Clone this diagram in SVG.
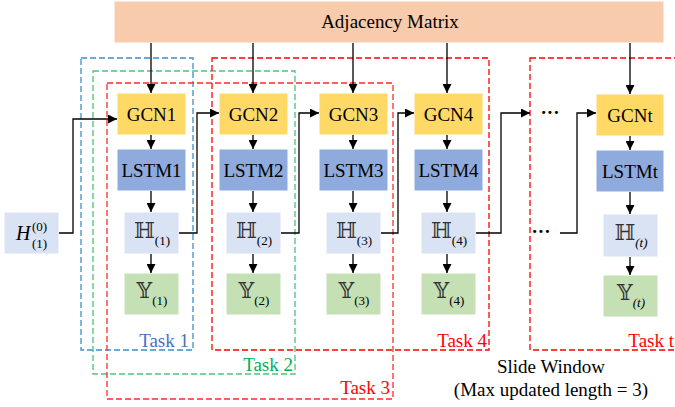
<svg xmlns="http://www.w3.org/2000/svg" width="675" height="407" viewBox="0 0 675 407">
<style>
.t{font-family:"Liberation Serif","Times New Roman",serif;fill:#000;}
.lbl{font-size:19px;text-anchor:middle;}
.m{text-anchor:middle;}
.ds{font-family:"DejaVu Serif","DejaVu Sans",serif;font-size:22px;fill:#333;}
.sub{font-family:"Liberation Serif",serif;font-size:13px;fill:#000;}
.adj{fill:#F8CBAD;}
.gcn{fill:#FFD966;}
.lstm{fill:#8FAADC;}
.h{fill:#DAE3F3;}
.y{fill:#C5E0B4;}
.box{stroke:#ffffff;stroke-width:1;}
.dash{fill:none;stroke-width:1.3;stroke-dasharray:6 3;}
.conn{fill:none;stroke:#000;stroke-width:1.3;}
.task{font-family:"Liberation Serif",serif;font-size:19px;text-anchor:end;}
</style>
<defs>
<marker id="ar" markerUnits="userSpaceOnUse" markerWidth="9" markerHeight="9" viewBox="0 0 10 10" refX="10" refY="5" orient="auto">
<path d="M0,0 L10,5 L0,10 z" fill="#000"/>
</marker>
</defs>
<rect width="675" height="407" fill="#fff"/>

<g id="adjacency">
<rect class="adj box" x="114" y="1" width="550" height="42"/>
<text class="t lbl" x="390" y="28">Adjacency Matrix</text>
</g>

<g id="task-boxes">
<rect class="dash" x="81" y="58" width="112" height="292" stroke="#3A8FD0"/>
<rect class="dash" x="93" y="71" width="202" height="303" stroke="#4CC37A"/>
<rect class="dash" x="107" y="83" width="286" height="316" stroke="#FF2A2A"/>
<rect class="dash" x="212" y="58" width="277" height="292" stroke="#FF0000"/>
<rect class="dash" x="530" y="58" width="160" height="292" stroke="#FF0000"/>
<text class="task" x="189" y="347" fill="#4472C4">Task 1</text>
<text class="task" x="293" y="371" fill="#00B050">Task 2</text>
<text class="task" x="390" y="394" fill="#FF0000">Task 3</text>
<text class="task" x="487" y="347" fill="#FF0000">Task 4</text>
<text class="task" x="674" y="347" fill="#FF0000">Task t</text>
</g>

<g id="h0">
<rect class="h box" x="4" y="212" width="55" height="42"/>
<text class="t" x="16" y="240" font-size="20" font-style="italic">H</text>
<text class="sub" x="32" y="231" font-size="12">(0)</text>
<text class="sub" x="32" y="248" font-size="12">(1)</text>
</g>

<g id="col1">
<rect class="gcn box" x="117" y="93" width="69" height="42"/>
<text class="t lbl" x="151.5" y="121">GCN1</text>
<rect class="lstm box" x="117" y="149" width="69" height="42"/>
<text class="t lbl" x="151.5" y="177">LSTM1</text>
<rect class="h box" x="124" y="212" width="55" height="42"/>
<text class="m" x="152" y="238"><tspan class="ds">ℍ</tspan><tspan class="sub" dy="7">(1)</tspan></text>
<rect class="y box" x="124" y="273" width="55" height="42"/>
<text class="m" x="152" y="298"><tspan class="ds">𝕐</tspan><tspan class="sub" dy="7">(1)</tspan></text>
</g>

<g id="col2">
<rect class="gcn box" x="219" y="93" width="69" height="42"/>
<text class="t lbl" x="253.5" y="121">GCN2</text>
<rect class="lstm box" x="219" y="149" width="69" height="42"/>
<text class="t lbl" x="253.5" y="177">LSTM2</text>
<rect class="h box" x="226" y="212" width="55" height="42"/>
<text class="m" x="254" y="238"><tspan class="ds">ℍ</tspan><tspan class="sub" dy="7">(2)</tspan></text>
<rect class="y box" x="226" y="273" width="55" height="42"/>
<text class="m" x="254" y="298"><tspan class="ds">𝕐</tspan><tspan class="sub" dy="7">(2)</tspan></text>
</g>

<g id="col3">
<rect class="gcn box" x="319" y="93" width="69" height="42"/>
<text class="t lbl" x="353.5" y="121">GCN3</text>
<rect class="lstm box" x="319" y="149" width="69" height="42"/>
<text class="t lbl" x="353.5" y="177">LSTM3</text>
<rect class="h box" x="326" y="212" width="55" height="42"/>
<text class="m" x="354" y="238"><tspan class="ds">ℍ</tspan><tspan class="sub" dy="7">(3)</tspan></text>
<rect class="y box" x="326" y="273" width="55" height="42"/>
<text class="m" x="354" y="298"><tspan class="ds">𝕐</tspan><tspan class="sub" dy="7">(3)</tspan></text>
</g>

<g id="col4">
<rect class="gcn box" x="414" y="93" width="69" height="42"/>
<text class="t lbl" x="448.5" y="121">GCN4</text>
<rect class="lstm box" x="414" y="149" width="69" height="42"/>
<text class="t lbl" x="448.5" y="177">LSTM4</text>
<rect class="h box" x="421" y="212" width="55" height="42"/>
<text class="m" x="449" y="238"><tspan class="ds">ℍ</tspan><tspan class="sub" dy="7">(4)</tspan></text>
<rect class="y box" x="421" y="273" width="55" height="42"/>
<text class="m" x="449" y="298"><tspan class="ds">𝕐</tspan><tspan class="sub" dy="7">(4)</tspan></text>
</g>

<g id="colt">
<rect class="gcn box" x="596" y="94" width="68" height="42"/>
<text class="t lbl" x="630" y="122">GCNt</text>
<rect class="lstm box" x="596" y="150" width="68" height="42"/>
<text class="t lbl" x="630" y="178">LSTMt</text>
<rect class="h box" x="603" y="214" width="55" height="43"/>
<text class="m" x="631" y="240"><tspan class="ds">ℍ</tspan><tspan class="sub" dy="7" font-style="italic">(t)</tspan></text>
<rect class="y box" x="603" y="275" width="55" height="42"/>
<text class="m" x="631" y="300"><tspan class="ds">𝕐</tspan><tspan class="sub" dy="7" font-style="italic">(t)</tspan></text>
</g>

<g id="ellipses">
<text class="t" x="550" y="119" font-size="19" font-weight="bold" text-anchor="middle">···</text>
<text class="t" x="541" y="238" font-size="19" font-weight="bold" text-anchor="middle">···</text>
</g>

<g id="connectors">
<line class="conn" x1="151" y1="43" x2="151" y2="93" marker-end="url(#ar)"/>
<line class="conn" x1="253" y1="43" x2="253" y2="93" marker-end="url(#ar)"/>
<line class="conn" x1="353" y1="43" x2="353" y2="93" marker-end="url(#ar)"/>
<line class="conn" x1="447" y1="43" x2="447" y2="93" marker-end="url(#ar)"/>
<line class="conn" x1="630" y1="43" x2="630" y2="94" marker-end="url(#ar)"/>
<line class="conn" x1="151" y1="135" x2="151" y2="149" marker-end="url(#ar)"/>
<line class="conn" x1="253" y1="135" x2="253" y2="149" marker-end="url(#ar)"/>
<line class="conn" x1="353" y1="135" x2="353" y2="149" marker-end="url(#ar)"/>
<line class="conn" x1="447" y1="135" x2="447" y2="149" marker-end="url(#ar)"/>
<line class="conn" x1="630" y1="136" x2="630" y2="150" marker-end="url(#ar)"/>
<line class="conn" x1="151" y1="191" x2="151" y2="212" marker-end="url(#ar)"/>
<line class="conn" x1="253" y1="191" x2="253" y2="212" marker-end="url(#ar)"/>
<line class="conn" x1="353" y1="191" x2="353" y2="212" marker-end="url(#ar)"/>
<line class="conn" x1="447" y1="191" x2="447" y2="212" marker-end="url(#ar)"/>
<line class="conn" x1="630" y1="192" x2="630" y2="214" marker-end="url(#ar)"/>
<line class="conn" x1="151" y1="254" x2="151" y2="273" marker-end="url(#ar)"/>
<line class="conn" x1="253" y1="254" x2="253" y2="273" marker-end="url(#ar)"/>
<line class="conn" x1="353" y1="254" x2="353" y2="273" marker-end="url(#ar)"/>
<line class="conn" x1="447" y1="254" x2="447" y2="273" marker-end="url(#ar)"/>
<line class="conn" x1="630" y1="257" x2="630" y2="275" marker-end="url(#ar)"/>
<polyline class="conn" points="59,233 73,233 73,119 117,119" marker-end="url(#ar)"/>
<polyline class="conn" points="179,233 197,233 197,113 219,113" marker-end="url(#ar)"/>
<polyline class="conn" points="281,233 299,233 299,113 319,113" marker-end="url(#ar)"/>
<polyline class="conn" points="381,233 398,233 398,113 414,113" marker-end="url(#ar)"/>
<polyline class="conn" points="476,233 501,233 501,113 530,113" marker-end="url(#ar)"/>
<polyline class="conn" points="560,233 577,233 577,113 596,113" marker-end="url(#ar)"/>
</g>

<g id="caption">
<text class="t" x="551" y="373" font-size="19" text-anchor="middle">Slide Window</text>
<text class="t" x="551" y="396" font-size="19" text-anchor="middle">(Max updated length = 3)</text>
</g>
</svg>
